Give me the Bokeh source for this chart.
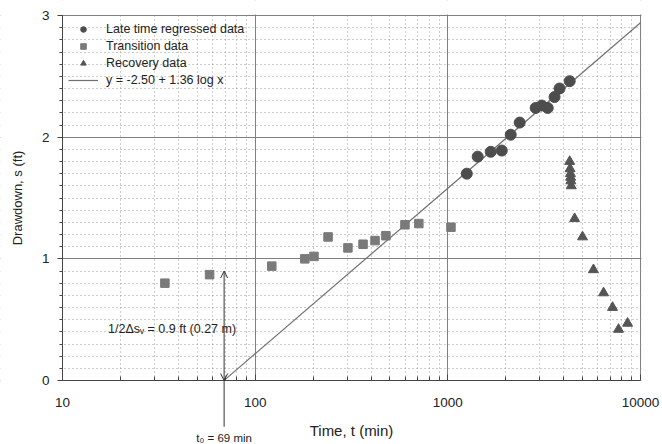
import numpy as np
from bokeh.plotting import figure
from bokeh.models import (FixedTicker, SingleIntervalTicker, Label, Arrow, OpenHead,
                          Legend, LegendItem, Range1d, BoxAnnotation)
from bokeh.embed import file_html
from bokeh.resources import INLINE

# ---- data ----
late_t = [1254, 1429, 1670, 1905, 2120, 2360, 2856, 3070, 3300, 3580, 3800, 4290]
late_s = [1.70, 1.84, 1.88, 1.89, 2.02, 2.12, 2.24, 2.26, 2.24, 2.33, 2.40, 2.46]

trans_t = [34, 58, 122, 181, 202, 239, 303, 363, 419, 477, 599, 707, 1038]
trans_s = [0.80, 0.87, 0.94, 1.00, 1.02, 1.18, 1.09, 1.12, 1.15, 1.19, 1.28, 1.29, 1.26]

rec_t = [4290, 4310, 4330, 4340, 4350, 4370, 4550, 5000, 5700, 6430, 7160, 7690, 8570]
rec_s = [1.80, 1.74, 1.70, 1.67, 1.64, 1.60, 1.33, 1.18, 0.91, 0.72, 0.60, 0.42, 0.47]

fit_a = -2.50
fit_b = 1.36
t0 = 69
half_ds = 0.9

x_min, x_max = 10, 10000
y_min, y_max = 0, 3
x_major = [10, 100, 1000, 10000]
x_labels = ["10", "100", "1000", "10000"]

FONT = "Liberation Sans"

# ---- layout (pixels) ----
W, H = 660, 444
FL, FR, FT, FB = 62, 640, 15, 380          # data-area edges in canvas pixels
px_dec = (FR - FL) / np.log10(x_max / x_min)
px_unit = (FB - FT) / (y_max - y_min)
xr = Range1d(x_min * 10 ** (-FL / px_dec), x_max * 10 ** ((W - FR) / px_dec))
yr = Range1d(y_min - (H - FB) / px_unit, y_max + FT / px_unit)

p = figure(width=W, height=H, x_axis_type="log", output_backend="svg",
           toolbar_location=None, x_range=xr, y_range=yr,
           min_border_left=0, min_border_top=0, min_border_right=0, min_border_bottom=0)

minor = [m * d for d in [10, 100, 1000] for m in range(2, 10)]
xt = FixedTicker(ticks=x_major, minor_ticks=minor)
yt = SingleIntervalTicker(interval=1, num_minor_ticks=10)
p.xaxis.ticker = xt
p.xgrid.ticker = xt
p.yaxis.ticker = yt
p.ygrid.ticker = yt
p.xaxis.major_label_overrides = {v: l for v, l in zip(x_major, x_labels)}
p.xaxis.fixed_location = y_min
p.yaxis.fixed_location = x_min
p.xaxis.bounds = (x_min, x_max)
p.yaxis.bounds = (y_min, y_max)

for ax in (p.xaxis[0], p.yaxis[0]):
    ax.major_label_text_font = FONT
    ax.major_label_text_font_size = "13.5px"
    ax.major_label_text_color = "#222222"
    ax.axis_label_text_font = FONT
    ax.axis_label_text_font_style = "normal"
    ax.axis_label_text_color = "#222222"
    ax.axis_line_color = "#444444"
    ax.major_tick_line_color = "#444444"
    ax.minor_tick_line_color = "#444444"

p.xaxis.axis_label = "Time, t (min)"
p.yaxis.axis_label = "Drawdown, s (ft)"
p.xaxis.axis_label_text_font_size = "15px"
p.yaxis.axis_label_text_font_size = "13px"
p.xaxis.major_tick_in = 6
p.xaxis.major_tick_out = 0
p.xaxis.minor_tick_in = 4
p.xaxis.minor_tick_out = 0
p.xaxis.major_label_standoff = 17
p.xaxis.axis_label_standoff = 12
p.yaxis.major_tick_in = 0
p.yaxis.major_tick_out = 5
p.yaxis.minor_tick_in = 0
p.yaxis.minor_tick_out = 3
p.yaxis.major_label_standoff = 8
p.yaxis.axis_label_standoff = 14

for g in (p.xgrid[0], p.ygrid[0]):
    g.grid_line_color = "#808080"
    g.grid_line_width = 1
    g.minor_grid_line_color = "#9a9a9a"
    g.minor_grid_line_dash = "1 3"
    g.minor_grid_line_width = 1

p.outline_line_color = None

# white bands outside the data area hide the grid there
for kw in (dict(top=y_min), dict(right=x_min),
           dict(left=x_max * 10 ** (1.0 / px_dec)), dict(bottom=y_max + 1.0 / px_unit)):
    p.add_layout(BoxAnnotation(fill_color="white", fill_alpha=1, line_alpha=0,
                               level="underlay", **kw))

# fitted line
xf = np.array([t0, x_max], dtype=float)
yf = fit_a + fit_b * np.log10(xf)
r_line = p.line(xf, yf, line_color="#707070", line_width=1.2)

r_late = p.scatter(late_t, late_s, marker="circle", size=11, fill_color="#4d4d4d",
                   line_color="#4d4d4d")
r_trans = p.scatter(trans_t, trans_s, marker="square", size=8.5, fill_color="#7a7a7a",
                    line_color="#7a7a7a")
r_rec = p.scatter(rec_t, rec_s, marker="triangle", size=10, fill_color="#555555",
                  line_color="#555555")

legend = Legend(items=[
    LegendItem(label="Late time regressed data", renderers=[r_late]),
    LegendItem(label="Transition data", renderers=[r_trans]),
    LegendItem(label="Recovery data", renderers=[r_rec]),
    LegendItem(label="y = -2.50 + 1.36 log x", renderers=[r_line]),
], location=(FL + 3, H - FT - 4 - 71))
legend.label_text_font = FONT
legend.label_text_font_size = "12.5px"
legend.label_text_color = "#222222"
legend.background_fill_alpha = 0
legend.border_line_alpha = 0
legend.glyph_width = 30
legend.glyph_height = 14
legend.label_height = 14
legend.label_standoff = 8
legend.spacing = 3
legend.padding = 3
legend.margin = 0
p.add_layout(legend)

# annotations
p.add_layout(Arrow(x_start=t0, y_start=0.0, x_end=t0, y_end=half_ds,
                   start=OpenHead(size=7, line_color="#333333", line_width=1),
                   end=OpenHead(size=7, line_color="#333333", line_width=1),
                   line_color="#333333", line_width=1))
p.add_layout(Arrow(x_start=t0, y_start=0.0, x_end=t0, y_end=-0.38, end=None,
                   line_color="#333333", line_width=1))
p.add_layout(Label(x=t0, y=0.42, text="1/2\u0394s\u1d65 = 0.9 ft (0.27 m)",
                   text_align="right", text_baseline="middle", x_offset=12,
                   text_font=FONT, text_font_size="12.5px", text_color="#222222"))
p.add_layout(Label(x=t0, y=-0.47, text="t\u2080 = 69 min", text_align="center",
                   text_baseline="middle", text_font=FONT, text_font_size="11.5px",
                   text_color="#222222"))

open("out.html", "w").write(file_html(p, INLINE))
